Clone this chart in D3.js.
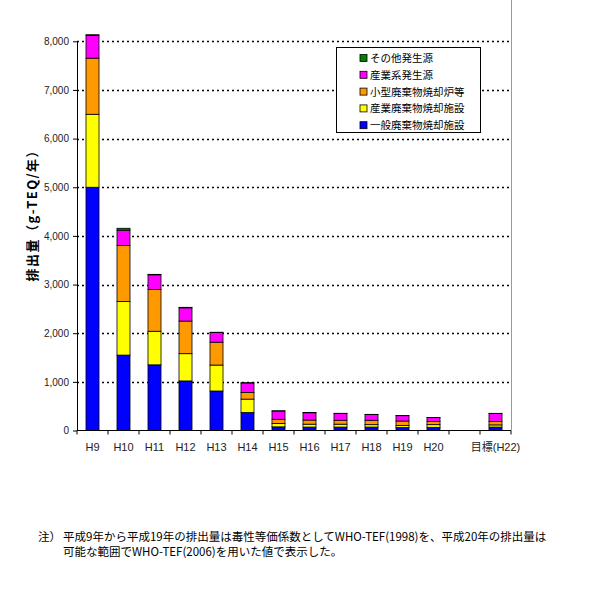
<!DOCTYPE html>
<html><head><meta charset="utf-8">
<script src="https://cdn.jsdelivr.net/npm/d3@7"></script>
<style>body{margin:0;background:#fff}</style>
</head><body>
<svg id="c" width="600" height="600"></svg>
<script>
const categories = ["H9","H10","H11","H12","H13","H14","H15","H16","H17","H18","H19","H20","","目標(H22)"];
const ippan   = [5000,1550,1350,1019,812,370,75,70,70,70,60,65,null,70];   // 一般廃棄物焼却施設
const sangyoHaiki = [1500,1100,690,560,533,275,70,60,60,50,45,55,null,45]; // 産業廃棄物焼却施設
const kogata  = [1153,1153,860,670,470,137,85,85,80,90,90,65,null,68];    // 小型廃棄物焼却炉等
const sangyoukei = [470,314,300,273,200,195,170,150,140,118,110,80,null,165]; // 産業系発生源
const sonota  = [12,40,10,10,5,5,5,5,4,4,3,3,null,5];                       // その他発生源
const seriesNames = ["一般廃棄物焼却施設","産業廃棄物焼却施設","小型廃棄物焼却炉等","産業系発生源","その他発生源"];
const seriesColors = ["#0000ff","#ffff00","#ff9900","#ff00ff","#008000"];
const yTicks = [0,1000,2000,3000,4000,5000,6000,7000,8000];
const yTitle = "排出量（g-TEQ/年）";
const noteLines = ["注）","平成9年から平成19年の排出量は毒性等価係数としてWHO-TEF(1998)を、平成20年の排出量は","可能な範囲でWHO-TEF(2006)を用いた値で表示した。"];

const svg = d3.select("#c");
const L = 77, R = 511, B = 430.5, T = 41.3;
const x = d3.scaleBand().domain(d3.range(categories.length)).range([L, R]).paddingInner(0.58).paddingOuter(0.29);
const y = d3.scaleLinear().domain([0, 8000]).range([B, T]);

// gridlines
svg.append("g").selectAll("line").data(yTicks.filter(d => d > 0)).join("line")
  .attr("x1", L).attr("x2", R - 1).attr("y1", d => Math.round(y(d)) + 0.5).attr("y2", d => Math.round(y(d)) + 0.5)
  .attr("stroke", "#000").attr("stroke-width", 1.6).attr("stroke-dasharray", "2,3");

// stacked data
const rows = categories.map((c, i) => ({i, vals: [ippan[i], sangyoHaiki[i], kogata[i], sangyoukei[i], sonota[i]]}))
  .filter(r => r.vals[0] !== null);
const keys = [0,1,2,3,4];
const stack = d3.stack().keys(keys).value((r, k) => r.vals[k]);
const stacked = stack(rows);
svg.append("g").selectAll("g").data(stacked).join("g")
  .attr("fill", (d, k) => seriesColors[k])
  .selectAll("rect").data(d => d).join("rect")
  .attr("x", d => x(d.data.i)).attr("width", x.bandwidth())
  .attr("y", d => y(d[1])).attr("height", d => y(d[0]) - y(d[1]))
  .attr("stroke", "#000").attr("stroke-width", 0.8);

// y axis
const ya = svg.append("g").attr("transform", `translate(${L},0)`)
  .call(d3.axisLeft(y).tickValues(yTicks).tickSize(4).tickSizeOuter(0).tickFormat(d3.format(",")));
ya.select(".domain").attr("stroke", "#000");
ya.selectAll("text").attr("font-family", "Liberation Sans, Arial, sans-serif").attr("font-size", 10).attr("fill", "#222").attr("x", -8);

// x axis baseline + ticks at band boundaries
svg.append("line").attr("x1", L).attr("x2", R).attr("y1", B).attr("y2", B).attr("stroke", "#000");
const step = x.step();
const bounds = d3.range(categories.length + 1).map(k => L + k * step);
svg.append("g").selectAll("line").data(bounds).join("line")
  .attr("x1", d => d).attr("x2", d => d).attr("y1", B).attr("y2", B + 4).attr("stroke", "#000");
svg.append("g").selectAll("text").data(categories).join("text")
  .attr("x", (d, i) => x(i) + x.bandwidth() / 2).attr("y", 451)
  .attr("text-anchor", "middle").attr("font-family", "Liberation Sans, Noto Sans CJK JP, sans-serif")
  .attr("font-size", 11).attr("fill", "#222").text(d => d);

// right border
svg.append("line").attr("x1", R + 0.5).attr("x2", R + 0.5).attr("y1", 0).attr("y2", B).attr("stroke", "#999");

// y title
svg.append("text").attr("transform", `translate(37,213) rotate(-90)`).attr("text-anchor", "middle")
  .attr("font-family", "Noto Sans CJK JP, sans-serif").attr("font-weight", "bold").attr("font-size", 13)
  .attr("textLength", 137).attr("lengthAdjust", "spacing")
  .attr("fill", "#000").text(yTitle);

// legend
const lg = svg.append("g");
lg.append("rect").attr("x", 336.5).attr("y", 47.5).attr("width", 144).attr("height", 85)
  .attr("fill", "#fff").attr("stroke", "#000").attr("stroke-width", 1);
const legOrder = [4,3,2,1,0];
legOrder.forEach((k, j) => {
  const yy = 58 + j * 16.8;
  lg.append("rect").attr("x", 360).attr("y", yy - 3.5).attr("width", 7).attr("height", 7)
    .attr("fill", seriesColors[k]).attr("stroke", "#000").attr("stroke-width", 0.8);
  lg.append("text").attr("x", 370).attr("y", yy + 4).attr("font-family", "Noto Sans CJK JP, sans-serif")
    .attr("font-size", 10.5).attr("fill", "#000").text(seriesNames[k]);
});

// note
const nf = "Noto Sans CJK JP, sans-serif";
svg.append("text").attr("x", 38).attr("y", 541).attr("font-family", nf).attr("font-size", 11.5).attr("fill", "#000").text(noteLines[0]);
svg.append("text").attr("x", 63).attr("y", 541).attr("font-family", nf).attr("font-size", 11.5).attr("fill", "#000").text(noteLines[1]);
svg.append("text").attr("x", 63).attr("y", 556).attr("font-family", nf).attr("font-size", 11.5).attr("fill", "#000").text(noteLines[2]);
</script>
</body></html>
